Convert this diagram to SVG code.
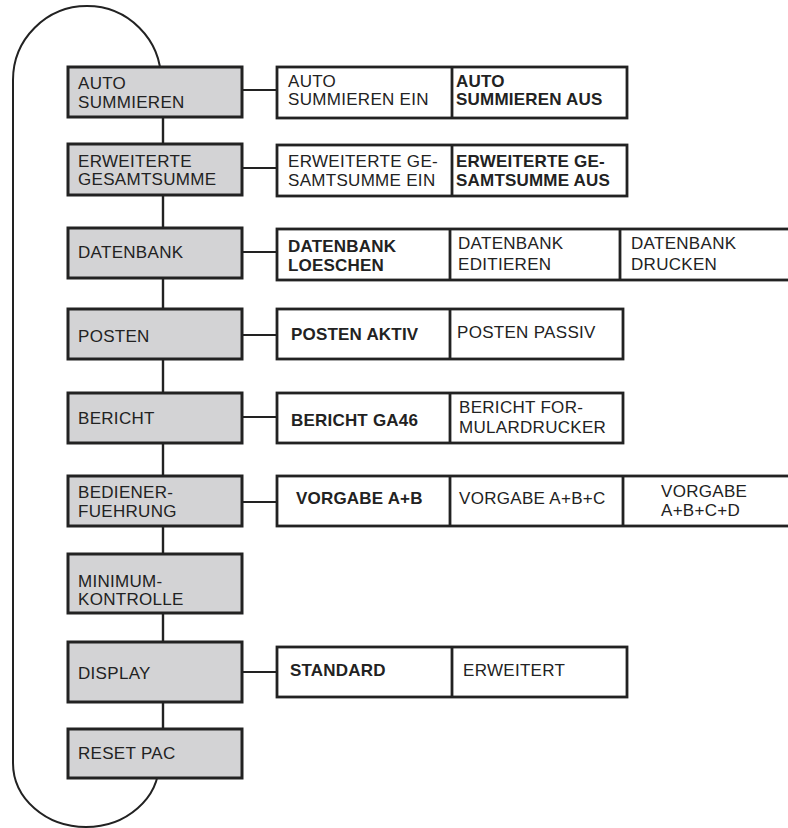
<svg xmlns="http://www.w3.org/2000/svg" width="788" height="828" viewBox="0 0 788 828">
<style>
.m{fill:#d3d3d5;stroke:#222;stroke-width:3}
.o{fill:#fff;stroke:#222;stroke-width:2.8}
.d{stroke:#222;stroke-width:2.8}
.c{stroke:#222;stroke-width:2.4;fill:none}
.h{stroke:#222;stroke-width:2;fill:none}
text{font-family:"Liberation Sans",Arial,sans-serif;font-size:17px;letter-spacing:0.3px;fill:#222}
.b{font-weight:bold;letter-spacing:0.2px}
</style>
<rect width="788" height="828" fill="#fff"/>
<g id="connectors">
<path class="h" d="M161 80 A74 74 0 0 0 13 80 L13 763 A73 64 0 0 0 159 763"/>
<path class="c" d="M163 117V144M163 195V228M163 278V309M163 359V393M163 443V476M163 526V554M163 613V642M163 702V729"/>
<path class="h" d="M242 90H277M242 168H277M242 252H277M242 335H277M242 417H277M242 502H277M242 672H277"/>
</g>
<g id="n-auto"><rect class="m" x="68" y="67" width="174" height="50"/><text x="78" y="89">AUTO</text><text x="78" y="108">SUMMIEREN</text></g>
<g id="n-erw"><rect class="m" x="68" y="144" width="174" height="51"/><text x="78" y="167">ERWEITERTE</text><text x="78" y="185">GESAMTSUMME</text></g>
<g id="n-db"><rect class="m" x="68" y="228" width="174" height="50"/><text x="78" y="258">DATENBANK</text></g>
<g id="n-posten"><rect class="m" x="68" y="309" width="174" height="50"/><text x="78" y="342">POSTEN</text></g>
<g id="n-bericht"><rect class="m" x="68" y="393" width="174" height="50"/><text x="78" y="424">BERICHT</text></g>
<g id="n-bed"><rect class="m" x="68" y="476" width="174" height="50"/><text x="78" y="498">BEDIENER-</text><text x="78" y="517">FUEHRUNG</text></g>
<g id="n-min"><rect class="m" x="68" y="554" width="174" height="59"/><text x="78" y="587">MINIMUM-</text><text x="78" y="605">KONTROLLE</text></g>
<g id="n-disp"><rect class="m" x="68" y="642" width="174" height="60"/><text x="78" y="679">DISPLAY</text></g>
<g id="n-reset"><rect class="m" x="68" y="729" width="174" height="49"/><text x="78" y="759">RESET PAC</text></g>

<g id="o-auto"><rect class="o" x="277" y="67" width="350" height="51"/><line class="d" x1="452" y1="67" x2="452" y2="118"/>
<text x="288" y="87">AUTO</text><text x="288" y="105">SUMMIEREN EIN</text>
<text class="b" x="456" y="87">AUTO</text><text class="b" x="456" y="105">SUMMIEREN AUS</text></g>
<g id="o-erw"><rect class="o" x="277" y="145" width="350" height="51"/><line class="d" x1="452" y1="145" x2="452" y2="196"/>
<text x="288" y="167">ERWEITERTE GE-</text><text x="288" y="186">SAMTSUMME EIN</text>
<text class="b" x="456" y="167">ERWEITERTE GE-</text><text class="b" x="456" y="186">SAMTSUMME AUS</text></g>
<g id="o-db"><rect class="o" x="277" y="229" width="530" height="51"/><line class="d" x1="450" y1="229" x2="450" y2="280"/><line class="d" x1="620" y1="229" x2="620" y2="280"/>
<text class="b" x="288" y="252">DATENBANK</text><text class="b" x="288" y="271">LOESCHEN</text>
<text x="458" y="249">DATENBANK</text><text x="458" y="270">EDITIEREN</text>
<text x="631" y="249">DATENBANK</text><text x="631" y="270">DRUCKEN</text></g>
<g id="o-posten"><rect class="o" x="277" y="309" width="346" height="50"/><line class="d" x1="450" y1="309" x2="450" y2="359"/>
<text class="b" x="291" y="340">POSTEN AKTIV</text><text x="457" y="338">POSTEN PASSIV</text></g>
<g id="o-bericht"><rect class="o" x="277" y="393" width="346" height="50"/><line class="d" x1="450" y1="393" x2="450" y2="443"/>
<text class="b" x="291" y="426">BERICHT GA46</text><text x="459" y="413">BERICHT FOR-</text><text x="459" y="433">MULARDRUCKER</text></g>
<g id="o-bed"><rect class="o" x="277" y="476" width="530" height="50"/><line class="d" x1="450" y1="476" x2="450" y2="526"/><line class="d" x1="623" y1="476" x2="623" y2="526"/>
<text class="b" x="296" y="504">VORGABE A+B</text><text x="459" y="504">VORGABE A+B+C</text>
<text x="661" y="497">VORGABE</text><text x="661" y="516">A+B+C+D</text></g>
<g id="o-disp"><rect class="o" x="277" y="647" width="350" height="50"/><line class="d" x1="452" y1="647" x2="452" y2="697"/>
<text class="b" x="290" y="676">STANDARD</text><text x="463" y="676">ERWEITERT</text></g>
</svg>
